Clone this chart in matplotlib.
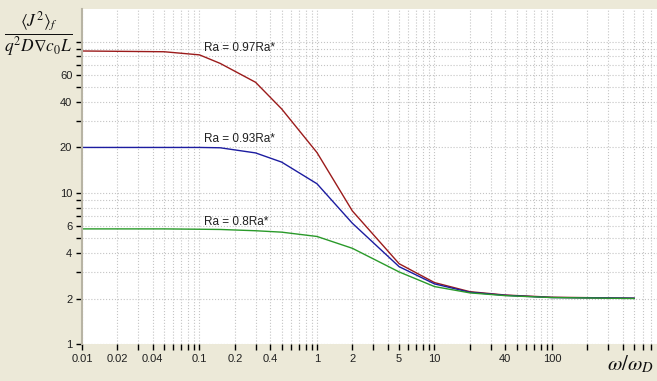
import matplotlib
matplotlib.use('Agg')
import matplotlib.pyplot as plt
from matplotlib.ticker import LogLocator, FixedLocator, FixedFormatter, NullFormatter

# frequency ratio omega / omega_D
omega = [0.01, 0.05, 0.1, 0.15, 0.3, 0.5, 1, 2, 5, 10, 20, 40, 100, 500]
# normalised current fluctuation for three Rayleigh numbers
ra_097 = [87, 86, 82, 72, 54, 36, 18.5, 7.6, 3.4, 2.55, 2.22, 2.11, 2.04, 2.01]
ra_093 = [20, 20, 20, 19.9, 18.4, 16, 11.5, 6.3, 3.25, 2.5, 2.2, 2.1, 2.03, 2.01]
ra_08 = [5.78, 5.78, 5.75, 5.73, 5.62, 5.5, 5.15, 4.3, 3.0, 2.4, 2.18, 2.09, 2.03, 2.0]

series_labels = ['Ra = 0.97Ra*', 'Ra = 0.93Ra*', 'Ra = 0.8Ra*']
label_y = [90.6, 22.8, 6.43]

x_ticks = [0.01, 0.02, 0.04, 0.1, 0.2, 0.4, 1, 2, 5, 10, 40, 100]
x_tick_labels = ['0.01', '0.02', '0.04', '0.1', '0.2', '0.4', '1', '2', '5', '10', '40', '100']
y_ticks = [1, 2, 4, 6, 10, 20, 40, 60]
y_tick_labels = ['1', '2', '4', '6', '10', '20', '40', '60']

plt.rcParams['font.family'] = ['Liberation Sans', 'DejaVu Sans']
plt.rcParams['mathtext.fontset'] = 'stix'

bg = '#ECE9D8'
fig = plt.figure(figsize=(6.57, 3.81), dpi=100, facecolor=bg)
ax = fig.add_axes([0.1248, 0.0971, 0.8752, 0.8793])
ax.set_facecolor('white')

ax.plot(omega, ra_097, color='#9B1B1B', lw=1.0)
ax.plot(omega, ra_093, color='#1C1CA0', lw=1.0)
ax.plot(omega, ra_08, color='#2A9A2A', lw=1.0)

ax.set_xscale('log')
ax.set_yscale('log')
ax.set_xlim(0.01, 783)
ax.set_ylim(1, 165)

# ticks: marks at every 1..9 position, labels only on some
all_sub = [1, 2, 3, 4, 5, 6, 7, 8, 9]
ax.xaxis.set_major_locator(FixedLocator(x_ticks))
ax.xaxis.set_major_formatter(FixedFormatter(x_tick_labels))
ax.xaxis.set_minor_locator(LogLocator(base=10, subs=all_sub, numticks=20))
ax.xaxis.set_minor_formatter(NullFormatter())
ax.yaxis.set_major_locator(FixedLocator(y_ticks))
ax.yaxis.set_major_formatter(FixedFormatter(y_tick_labels))
ax.yaxis.set_minor_locator(LogLocator(base=10, subs=all_sub, numticks=20))
ax.yaxis.set_minor_formatter(NullFormatter())

ax.tick_params(which='both', direction='out', length=4, width=1, color='black',
               labelsize=8, labelcolor='#202020', pad=3)

ax.grid(True, which='both', ls=':', color='#C4C4C4', lw=0.8)
ax.set_axisbelow(True)

for s in ['top', 'right', 'bottom']:
    ax.spines[s].set_visible(False)
ax.spines['left'].set_color('#B8B4A4')
ax.spines['left'].set_linewidth(1.5)

for lab, yv in zip(series_labels, label_y):
    ax.text(0.109, yv, lab, fontsize=8.5, color='#202020', ha='left', va='center')

fig.text(38 / 657, 1 - 34 / 381,
         r'$\dfrac{\langle J^2\rangle_f}{q^2 D\nabla c_0 L}$',
         fontsize=12.5, ha='center', va='center', color='#101010')
fig.text(630 / 657, 1 - 364 / 381, r'$\omega/\omega_D$',
         fontsize=15, ha='center', va='center', color='#101010')

fig.savefig('out.png', dpi=100, facecolor=bg)
